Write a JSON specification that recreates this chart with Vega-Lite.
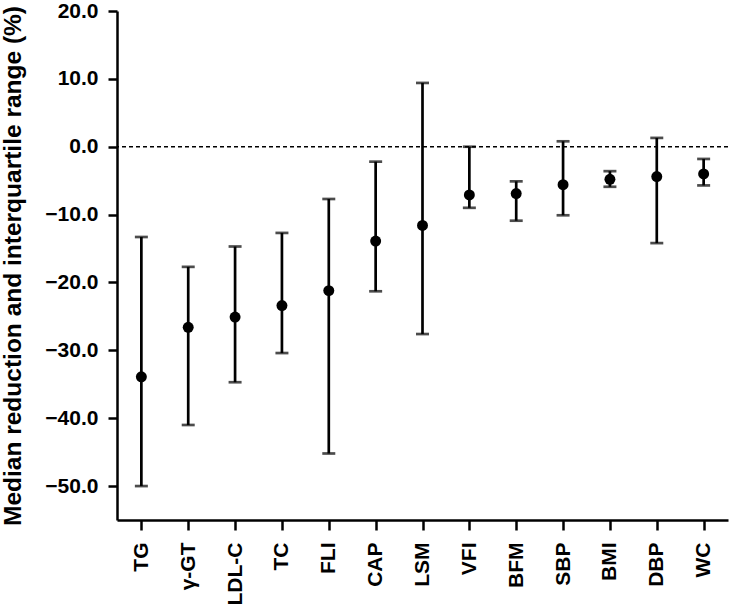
{
  "$schema": "https://vega.github.io/schema/vega-lite/v6.json",
  "width": 611,
  "height": 509,
  "autosize": "none",
  "padding": {"left": 117, "top": 11, "right": 3, "bottom": 88},
  "background": "white",
  "config": {
    "view": {"stroke": null},
    "font": "Liberation Sans"
  },
  "data": {
    "values": [
      {"var": "TG", "median": -33.9, "q1": -50.0, "q3": -13.3},
      {"var": "γ-GT", "median": -26.6, "q1": -41.0, "q3": -17.7},
      {"var": "LDL-C", "median": -25.1, "q1": -34.7, "q3": -14.7},
      {"var": "TC", "median": -23.4, "q1": -30.4, "q3": -12.7},
      {"var": "FLI", "median": -21.2, "q1": -45.2, "q3": -7.7},
      {"var": "CAP", "median": -13.9, "q1": -21.3, "q3": -2.2},
      {"var": "LSM", "median": -11.6, "q1": -27.6, "q3": 9.4},
      {"var": "VFI", "median": -7.1, "q1": -9.0, "q3": 0.0},
      {"var": "BFM", "median": -6.9, "q1": -10.9, "q3": -5.1},
      {"var": "SBP", "median": -5.6, "q1": -10.1, "q3": 0.8},
      {"var": "BMI", "median": -4.8, "q1": -5.9, "q3": -3.6},
      {"var": "DBP", "median": -4.4, "q1": -14.2, "q3": 1.3},
      {"var": "WC", "median": -4.0, "q1": -5.7, "q3": -1.8}
    ]
  },
  "encoding": {
    "x": {
      "field": "var",
      "type": "nominal",
      "sort": null,
      "scale": {"type": "point", "padding": 0.52},
      "axis": {
        "title": null,
        "labelAngle": -90,
        "labelAlign": "right",
        "labelBaseline": "middle",
        "labelFontSize": 21,
        "labelFontWeight": "bold",
        "labelColor": "black",
        "labelPadding": 12,
        "tickSize": 10,
        "tickWidth": 2.5,
        "tickColor": "black",
        "domainColor": "black",
        "domainWidth": 2.5,
        "grid": false
      }
    }
  },
  "layer": [
    {
      "data": {"values": [{"z": 0}]},
      "mark": {"type": "rule", "strokeDash": [4, 3], "strokeWidth": 1.5, "color": "black"},
      "encoding": {
        "x": null,
        "y": {"field": "z", "type": "quantitative"}
      }
    },
    {
      "mark": {"type": "rule", "strokeWidth": 2.7, "color": "black"},
      "encoding": {
        "y": {
          "field": "q1",
          "type": "quantitative",
          "scale": {"domain": [-55, 20], "nice": false, "zero": false},
          "axis": {
            "title": "Median reduction and interquartile range (%)",
            "titleFontSize": 24.5,
            "titleFontWeight": "bold",
            "titleColor": "black",
            "titlePadding": 19,
            "values": [-50, -40, -30, -20, -10, 0, 10, 20],
            "format": ".1f",
            "labelFontSize": 21,
            "labelFontWeight": "bold",
            "labelColor": "black",
            "labelPadding": 10,
            "tickSize": 9,
            "tickWidth": 2.5,
            "tickColor": "black",
            "domainColor": "black",
            "domainWidth": 2.5,
            "grid": false
          }
        },
        "y2": {"field": "q3"}
      }
    },
    {
      "mark": {"type": "tick", "thickness": 2.7, "size": 13, "color": "black"},
      "encoding": {"y": {"field": "q1", "type": "quantitative"}}
    },
    {
      "mark": {"type": "tick", "thickness": 2.7, "size": 13, "color": "black"},
      "encoding": {"y": {"field": "q3", "type": "quantitative"}}
    },
    {
      "mark": {"type": "circle", "size": 120, "color": "black", "opacity": 1},
      "encoding": {"y": {"field": "median", "type": "quantitative"}}
    }
  ]
}
